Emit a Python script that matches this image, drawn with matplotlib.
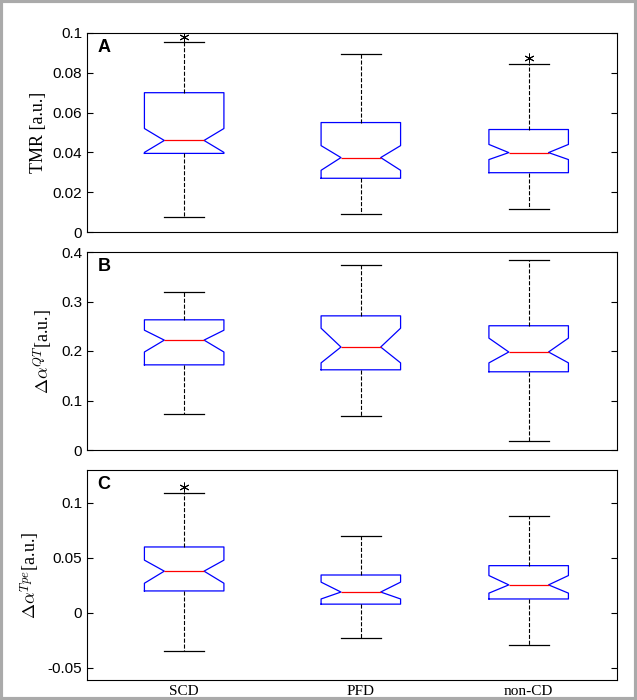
import matplotlib as mpl
mpl.use('Agg')
import matplotlib.pyplot as plt

plt.rcParams['mathtext.fontset'] = 'cm'
plt.rcParams['font.family'] = 'Liberation Sans'

groups = ['SCD', 'PFD', 'non-CD']

# panel A: TMR
tmr_whislo = [0.0075, 0.009, 0.0116]
tmr_q1 = [0.0395, 0.027, 0.0298]
tmr_cilo = [0.040, 0.031, 0.0364]
tmr_med = [0.046, 0.0374, 0.0399]
tmr_cihi = [0.052, 0.0434, 0.044]
tmr_q3 = [0.070, 0.055, 0.0515]
tmr_whishi = [0.0955, 0.0894, 0.0843]
tmr_fliers = [[0.098], [], [0.0874]]

# panel B: delta alpha QT
qt_whislo = [0.072, 0.069, 0.019]
qt_q1 = [0.172, 0.162, 0.158]
qt_cilo = [0.198, 0.176, 0.176]
qt_med = [0.222, 0.208, 0.198]
qt_cihi = [0.242, 0.246, 0.226]
qt_q3 = [0.263, 0.271, 0.251]
qt_whishi = [0.319, 0.374, 0.384]
qt_fliers = [[], [], []]

# panel C: delta alpha Tpe
tpe_whislo = [-0.0345, -0.023, -0.029]
tpe_q1 = [0.020, 0.008, 0.0127]
tpe_cilo = [0.027, 0.0127, 0.018]
tpe_med = [0.038, 0.019, 0.0255]
tpe_cihi = [0.048, 0.028, 0.034]
tpe_q3 = [0.060, 0.0345, 0.043]
tpe_whishi = [0.109, 0.070, 0.088]
tpe_fliers = [[0.1145], [], []]


def make_stats(wl, q1, cl, md, ch, q3, wh, fl):
    return [dict(whislo=wl[i], q1=q1[i], cilo=cl[i], med=md[i], cihi=ch[i],
                 q3=q3[i], whishi=wh[i], fliers=fl[i], label=groups[i])
            for i in range(len(groups))]


panels = [
    ('A', 'TMR [a.u.]', make_stats(tmr_whislo, tmr_q1, tmr_cilo, tmr_med, tmr_cihi, tmr_q3, tmr_whishi, tmr_fliers),
     (0, 0.1), [0, 0.02, 0.04, 0.06, 0.08, 0.1]),
    ('B', r'$\Delta\alpha^{QT}$[a.u.]', make_stats(qt_whislo, qt_q1, qt_cilo, qt_med, qt_cihi, qt_q3, qt_whishi, qt_fliers),
     (0, 0.4), [0, 0.1, 0.2, 0.3, 0.4]),
    ('C', r'$\Delta\alpha^{Tpe}$[a.u.]', make_stats(tpe_whislo, tpe_q1, tpe_cilo, tpe_med, tpe_cihi, tpe_q3, tpe_whishi, tpe_fliers),
     (-0.061, 0.13), [-0.05, 0, 0.05, 0.1]),
]

fig = plt.figure(figsize=(6.37, 7.0), dpi=100)
fig.patches.append(plt.Rectangle((0.002, 0.002), 0.996, 0.996, transform=fig.transFigure,
                                 fill=False, edgecolor='#aaaaaa', linewidth=3))
tops = [33, 252, 470]
bottoms = [232, 450, 680]
for (letter, ylab, stats, ylim, ticks), t, b in zip(panels, tops, bottoms):
    ax = fig.add_axes([87 / 637, 1 - b / 700, 530 / 637, (b - t) / 700])
    ax.bxp(stats, positions=[1.05, 2.05, 3.0], widths=0.45, shownotches=True,
           boxprops=dict(color='blue', linewidth=0.9),
           medianprops=dict(color='red', linewidth=0.9),
           whiskerprops=dict(color='black', linestyle='--', linewidth=0.8),
           capprops=dict(color='black', linewidth=0.9),
           flierprops=dict(marker=(6, 2, 0), markersize=7, markeredgecolor='black',
                           markeredgewidth=0.7, linestyle='none'))
    ax.set_xlim(0.5, 3.5)
    ax.set_ylim(*ylim)
    ax.set_yticks(ticks)
    ax.set_yticklabels([('%g' % v) for v in ticks], fontsize=11)
    ax.set_ylabel(ylab, family='Liberation Serif', fontsize=13)
    ax.tick_params(direction='in', length=4, right=True)
    ax.text(0.02, 0.97, letter, transform=ax.transAxes, fontsize=13,
            fontweight='bold', va='top')
    if letter == 'C':
        ax.set_xticklabels(groups, family='Liberation Serif', fontsize=11)
    else:
        ax.set_xticklabels([])
    ax.tick_params(axis='x', length=0)

fig.savefig('out.png', dpi=100)
